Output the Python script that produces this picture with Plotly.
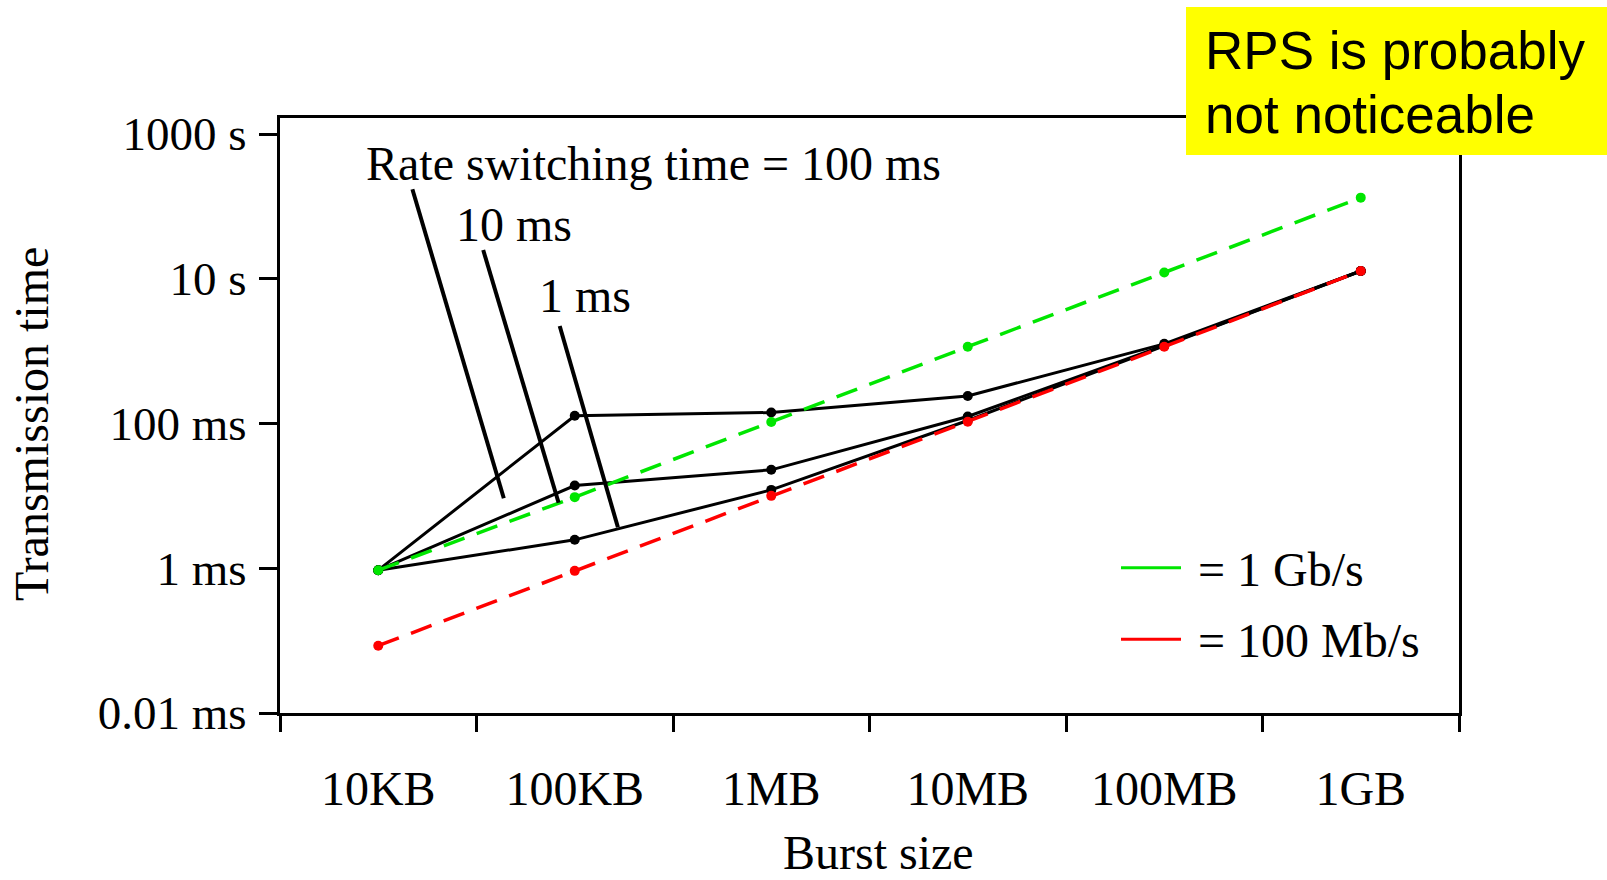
import plotly.graph_objects as go

# ---- data ----
sizes = ["10KB", "100KB", "1MB", "10MB", "100MB", "1GB"]
size_pos = [0, 1, 2, 3, 4, 5]
rate_1gbps = [0.00094, 0.0096, 0.105, 1.15, 12.2, 132]
rate_100mbps = [0.000085, 0.00092, 0.0100, 0.106, 1.15, 12.8]
switch_100ms = [0.00094, 0.128, 0.142, 0.24, 1.26, 12.8]
switch_10ms = [0.00094, 0.0139, 0.0229, 0.125, 1.2, 12.8]
switch_1ms = [0.00094, 0.00247, 0.0121, 0.11, 1.18, 12.8]
y_tickvals = [1e-5, 1e-3, 1e-1, 10, 1000]
y_ticktext = ["0.01 ms", "1 ms", "100 ms", "10 s", "1000 s"]

SERIF = "Liberation Serif"
SANS = "Liberation Sans"

fig = go.Figure()
for ys in (switch_100ms, switch_10ms, switch_1ms):
    fig.add_trace(go.Scatter(x=size_pos, y=ys, mode="lines+markers",
                             line=dict(color="black", width=3),
                             marker=dict(color="black", size=10),
                             showlegend=False))
fig.add_trace(go.Scatter(x=size_pos, y=rate_1gbps, mode="lines+markers",
                         line=dict(color="#00e600", width=3.5, dash="22px,13px"),
                         marker=dict(color="#00e600", size=10),
                         showlegend=False))
fig.add_trace(go.Scatter(x=size_pos, y=rate_100mbps, mode="lines+markers",
                         line=dict(color="#ff0000", width=3.5, dash="22px,13px"),
                         marker=dict(color="#ff0000", size=10),
                         showlegend=False))

L, R, T, B = 280, 1459, 118, 713
W, H = R - L, B - T


def px(xp):
    return (xp - L) / W


def py(yp):
    return (B - yp) / H


shapes = []
# pointer lines
for (x0, y0, x1, y1) in [(412.4, 189.3, 503.8, 498.3),
                         (483.2, 250.0, 558.6, 502.7),
                         (559.7, 326.0, 617.9, 527.3)]:
    shapes.append(dict(type="line", xref="paper", yref="paper",
                       x0=px(x0), y0=py(y0), x1=px(x1), y1=py(y1),
                       line=dict(color="black", width=4)))
# legend samples
shapes.append(dict(type="line", xref="paper", yref="paper",
                   x0=px(1121), x1=px(1181), y0=py(567.7), y1=py(567.7),
                   line=dict(color="#00e600", width=3)))
shapes.append(dict(type="line", xref="paper", yref="paper",
                   x0=px(1121), x1=px(1181), y0=py(639.3), y1=py(639.3),
                   line=dict(color="#ff0000", width=3)))
# yellow box
shapes.append(dict(type="rect", xref="paper", yref="paper",
                   x0=px(1186), x1=px(1607), y0=py(155), y1=py(7),
                   fillcolor="#ffff00", line=dict(width=0), layer="above"))

annotations = []


def add_text(text, xp, yc, size=48, family=SERIF, xanchor="left", angle=0):
    annotations.append(dict(text=text, xref="paper", yref="paper",
                            x=px(xp), y=py(yc), xanchor=xanchor, yanchor="middle",
                            showarrow=False, textangle=angle,
                            font=dict(family=family, size=size, color="black")))


add_text("Rate switching time = 100 ms", 364, 163.5)
add_text("10 ms", 454, 224.5)
add_text("1 ms", 537, 295.6)
add_text("= 1 Gb/s", 1196, 569)
add_text("= 100 Mb/s", 1196, 640.7)
add_text("RPS is probably", 1203, 50.9, size=53, family=SANS)
add_text("not noticeable", 1203, 114.6, size=53, family=SANS)
add_text("Burst size", 878, 852, xanchor="center")
add_text("Transmission time", 32, 424, xanchor="center", angle=-90)

fig.update_layout(
    width=1607, height=880,
    margin=dict(l=L, r=1607 - R, t=T, b=880 - B),
    paper_bgcolor="white", plot_bgcolor="white",
    shapes=shapes, annotations=annotations,
    font=dict(family=SERIF, size=47, color="black"),
    xaxis=dict(range=[-0.5, 5.5], tickmode="array", tickvals=size_pos, ticktext=sizes,
               ticks="", showgrid=False, zeroline=False, ticklabelstandoff=31,
               showline=True, linecolor="black", linewidth=3, mirror=True,
               tickfont=dict(family=SERIF, size=48),
               minor=dict(tickmode="array", tickvals=[-0.5, 0.5, 1.5, 2.5, 3.5, 4.5, 5.5],
                          ticks="outside", ticklen=16, tickwidth=3, tickcolor="black",
                          showgrid=False)),
    yaxis=dict(type="log", range=[-5, 3.221], tickmode="array",
               tickvals=y_tickvals, ticktext=y_ticktext, ticklabelstandoff=3,
               ticks="outside", ticklen=18, tickwidth=3, tickcolor="black",
               showgrid=False, zeroline=False,
               showline=True, linecolor="black", linewidth=3, mirror=True,
               tickfont=dict(family=SERIF, size=47)),
)

fig.write_html("out.html")
